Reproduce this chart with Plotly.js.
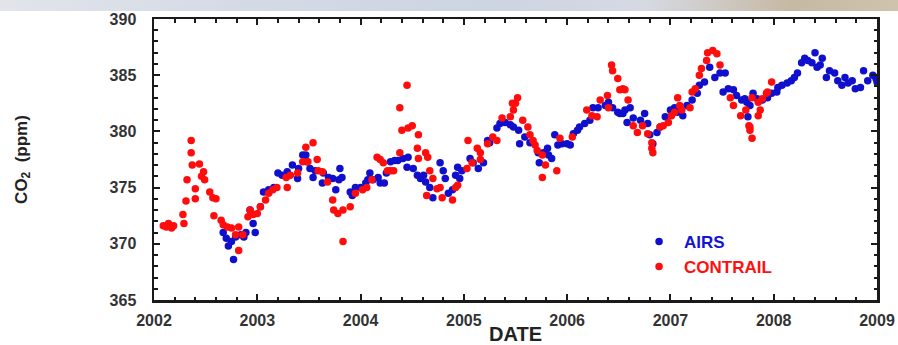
<!DOCTYPE html>
<html>
<head>
<meta charset="utf-8">
<script src="https://cdn.plot.ly/plotly-3.0.1.min.js"></script>
<style>
html,body{margin:0;padding:0;background:#ffffff;}
#strip{position:absolute;left:0;top:0;width:898px;height:11px;
background:linear-gradient(to right,#e2e4ea 0%,#d3d9e5 30%,#cdd4e2 55%,#d6d9e2 72%,#c6b9a4 88%,#cfc3ae 100%);}
#chart{position:absolute;left:0;top:0;width:898px;height:345px;}
</style>
</head>
<body>
<div id="strip"></div>
<div id="chart"></div>
<script>
// AIRS (blue) — decimal year and CO2 (ppm)
const airsDate = [2002.67,2002.70,2002.72,2002.75,2002.77,2002.79,2002.84,2002.87,2002.89,2002.93,2002.96,2002.98,
2003.03,2003.06,2003.11,2003.16,2003.20,2003.24,2003.29,2003.34,2003.39,2003.40,2003.44,2003.47,2003.48,2003.51,2003.54,2003.56,
2003.63,2003.64,2003.69,2003.73,2003.76,2003.79,2003.80,2003.82,2003.90,2003.92,2003.95,2004.00,2004.05,2004.07,2004.09,2004.12,
2004.17,2004.19,2004.23,2004.25,2004.29,2004.33,2004.36,2004.41,2004.45,2004.46,2004.51,2004.55,2004.58,2004.61,2004.63,2004.67,
2004.70,2004.77,2004.80,2004.82,2004.85,2004.89,2004.92,2004.94,2004.96,2004.98,2005.06,2005.09,2005.14,2005.19,2005.23,2005.25,
2005.32,2005.35,2005.40,2005.45,2005.48,2005.53,2005.54,2005.59,2005.64,2005.72,2005.73,2005.77,2005.81,2005.82,2005.85,2005.88,
2005.91,2005.95,2006.00,2006.03,2006.06,2006.10,2006.12,2006.17,2006.22,2006.25,2006.30,2006.37,2006.40,2006.44,2006.49,2006.51,
2006.54,2006.56,2006.58,2006.61,2006.64,2006.71,2006.75,2006.78,2006.80,2006.83,2006.87,2006.90,2006.95,2007.00,2007.04,2007.07,
2007.12,2007.16,2007.21,2007.26,2007.28,2007.33,2007.38,2007.43,2007.48,2007.51,2007.53,2007.56,2007.61,2007.64,2007.69,2007.72,
2007.74,2007.75,2007.77,2007.80,2007.84,2007.89,2007.94,2007.98,2008.03,2008.04,2008.08,2008.13,2008.17,2008.20,2008.23,2008.27,
2008.30,2008.33,2008.37,2008.40,2008.42,2008.45,2008.47,2008.51,2008.54,2008.59,2008.62,2008.66,2008.69,2008.72,2008.76,2008.79,
2008.84,2008.87,2008.91,2008.96,2008.99,2009.00];
const airsCO2 = [371.0,370.5,369.8,370.2,368.6,370.6,370.8,370.6,371.0,373.0,371.8,371.0,
373.3,374.6,374.8,375.0,376.3,376.1,376.4,377.0,375.8,376.7,377.9,377.9,377.3,376.7,375.9,376.5,
375.4,376.3,375.9,375.8,374.8,375.7,376.7,375.9,374.6,374.3,375.0,375.0,375.4,375.7,376.3,375.7,
375.9,375.4,375.4,376.3,377.3,377.4,377.4,377.6,376.8,377.7,376.7,376.1,375.8,376.1,375.5,375.0,
374.1,377.2,376.5,375.8,374.5,374.8,376.1,376.8,375.8,376.5,377.6,377.2,376.7,377.2,379.2,379.0,
380.3,380.7,380.8,380.6,380.4,380.1,378.9,379.5,379.0,378.1,377.2,378.1,378.5,377.9,377.6,379.7,
378.8,378.9,378.9,378.8,379.8,380.1,380.4,380.7,381.0,382.1,382.1,382.3,382.6,382.1,381.7,381.6,
381.6,381.9,380.8,382.1,381.2,381.0,381.6,380.7,379.7,378.9,379.9,380.4,381.3,381.9,382.1,381.7,
381.4,382.3,382.8,383.4,384.1,384.4,385.7,384.8,385.2,383.5,385.2,383.8,383.7,383.2,382.8,382.9,
382.6,381.3,382.3,383.4,382.9,382.8,383.0,383.4,383.5,383.9,384.1,384.3,384.5,384.8,385.2,386.1,
386.5,386.3,386.1,387.0,385.7,385.9,386.5,384.8,385.4,385.2,384.5,384.1,384.8,384.3,384.5,383.8,
383.9,385.4,384.5,385.0,384.7,384.4];

// CONTRAIL (red) — decimal year and CO2 (ppm)
const contrailDate = [2002.09,2002.12,2002.14,2002.17,2002.19,2002.28,2002.29,2002.31,2002.32,2002.36,2002.36,2002.37,2002.40,2002.40,
2002.44,2002.46,2002.48,2002.49,2002.54,2002.57,2002.60,2002.58,2002.65,2002.67,2002.71,2002.75,2002.79,2002.82,2002.82,2002.86,
2002.91,2002.93,2002.96,2003.00,2003.03,2003.08,2003.11,2003.15,2003.19,2003.28,2003.29,2003.32,2003.39,2003.44,2003.47,2003.54,
2003.49,2003.58,2003.59,2003.63,2003.68,2003.73,2003.74,2003.78,2003.83,2003.83,2003.90,2003.95,2004.02,2004.06,2004.11,2004.16,
2004.22,2004.19,2004.26,2004.29,2004.32,2004.38,2004.38,2004.40,2004.45,2004.46,2004.50,2004.56,2004.55,2004.56,2004.63,2004.65,
2004.64,2004.67,2004.70,2004.74,2004.77,2004.79,2004.89,2004.92,2004.94,2005.03,2005.04,2005.08,2005.13,2005.16,2005.16,2005.23,
2005.28,2005.32,2005.37,2005.45,2005.47,2005.48,2005.50,2005.52,2005.57,2005.62,2005.64,2005.67,2005.69,2005.71,2005.76,2005.76,
2005.79,2005.90,2005.93,2006.05,2006.19,2006.24,2006.29,2006.32,2006.39,2006.40,2006.43,2006.44,2006.49,2006.51,2006.54,2006.56,
2006.59,2006.64,2006.68,2006.73,2006.78,2006.82,2006.83,2006.82,2006.90,2006.93,2006.98,2007.01,2007.04,2007.07,2007.09,2007.11,
2007.19,2007.21,2007.24,2007.28,2007.30,2007.35,2007.36,2007.41,2007.45,2007.48,2007.58,2007.61,2007.68,2007.73,2007.76,2007.77,
2007.77,2007.79,2007.79,2007.85,2007.87,2007.85,2007.89,2007.93,2007.94,2007.98];
const contrailCO2 = [371.6,371.5,371.8,371.4,371.6,372.6,371.8,373.8,375.7,379.2,378.1,377.0,374.9,374.0,
377.1,376.0,376.4,375.7,374.6,374.1,374.0,372.5,372.1,371.7,371.5,371.4,370.8,371.5,369.4,370.8,
372.4,373.0,372.6,372.7,373.3,373.9,374.5,374.8,375.0,375.9,375.0,376.1,376.3,377.3,378.6,379.0,
377.3,377.5,376.5,376.4,375.5,373.9,373.0,372.7,373.0,370.2,373.3,374.5,374.8,375.0,375.7,377.7,
377.2,377.5,376.5,376.5,376.5,378.1,382.1,380.1,384.1,380.3,380.5,379.7,378.5,377.6,378.1,377.7,
374.3,376.5,375.8,374.9,375.0,374.1,373.9,375.0,375.2,376.7,379.2,377.2,378.5,378.1,377.5,378.9,
379.5,379.2,381.2,381.3,382.5,381.9,382.5,383.0,381.0,380.4,379.7,379.2,378.8,378.3,377.9,375.9,
377.0,376.5,379.4,379.5,381.9,381.4,381.3,382.8,383.2,382.1,385.9,385.4,384.7,383.7,383.8,383.7,
382.8,380.5,379.9,380.5,379.8,379.0,378.1,378.5,380.4,380.5,380.8,381.4,381.7,383.0,382.3,381.9,
382.1,383.5,383.8,385.0,385.6,386.3,387.0,387.2,386.9,385.9,383.0,382.3,381.4,381.9,380.5,380.4,
380.1,379.4,383.0,382.6,381.9,381.4,382.9,383.4,383.5,384.4];

const xTickVals = [2002,2003,2004,2005,2006,2007,2008,2009];
const xTickText = ['2002','2003','2004','2005','2006','2007','2008','2009'];
const yTickVals = [365,370,375,380,385,390];

const tickFont = {family:'"Liberation Sans", Arial, sans-serif', size:16, color:'#333333', weight:'bold'};

const traces = [
  {x: airsDate, y: airsCO2, mode:'markers', type:'scatter',
   name:'<span style="color:#1414d2">AIRS</span>',
   marker:{color:'#1010cc', size:7.5}},
  {x: contrailDate, y: contrailCO2, mode:'markers', type:'scatter',
   name:'<span style="color:#ff1010">CONTRAIL</span>',
   marker:{color:'#ff0c0c', size:7.5}}
];

const axisCommon = {
  showline:true, linewidth:2.5, linecolor:'#1a1a1a', mirror:'ticks',
  ticks:'inside', ticklen:6, tickwidth:2, tickcolor:'#1a1a1a',
  showgrid:false, zeroline:false, tickfont: tickFont
};

const layout = {
  width:898, height:345,
  margin:{l:154, r:21, t:19, b:45, autoexpand:false},
  paper_bgcolor:'rgba(0,0,0,0)', plot_bgcolor:'#ffffff',
  showlegend:true,
  legend:{x:0.664, y:0.271, xanchor:'left', yanchor:'top', bgcolor:'rgba(0,0,0,0)', itemwidth:40,
          font:{family:'"Liberation Sans", Arial, sans-serif', size:17, weight:'bold'}},
  xaxis: Object.assign({}, axisCommon, {
    range:[2002,2009], tickmode:'array', tickvals:xTickVals, ticktext:xTickText,
    minor:{dtick:0.2, tick0:2002, ticks:'inside', ticklen:3.5, tickwidth:2, tickcolor:'#1a1a1a'},
    ticklabelstandoff:4,
    title:{text:'DATE', font:{family:'"Liberation Sans", Arial, sans-serif', size:20, color:'#222222', weight:'bold'}, standoff:0}
  }),
  yaxis: Object.assign({}, axisCommon, {
    range:[365,390], tickmode:'array', tickvals:yTickVals,
    minor:{dtick:1, tick0:365, ticks:'inside', ticklen:3.5, tickwidth:2, tickcolor:'#1a1a1a'},
    ticklabelstandoff:12,
    title:{text:'CO<sub>2</sub>  (ppm)', font:{family:'"Liberation Sans", Arial, sans-serif', size:17, color:'#222222', weight:'bold'}, standoff:78}
  })
};

Plotly.newPlot('chart', traces, layout, {displayModeBar:false, staticPlot:true});
</script>
</body>
</html>
